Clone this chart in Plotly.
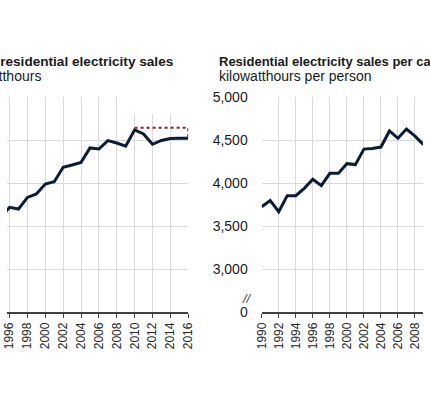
import plotly.graph_objects as go

# total residential sales, billion kWh (left panel, cropped)
salesYears = list(range(1995, 2017))
salesValues = [1040, 1087, 1079, 1133, 1149, 1195, 1206, 1273, 1284, 1296, 1363,
               1358, 1397, 1386, 1371, 1447, 1428, 1380, 1398, 1407, 1408, 1408]

# dotted reference back to the 2010 peak
peakYears = [2010, 2016, 2016]
peakValues = [1457, 1457, 1408]

# per person sales, kWh (right panel, cropped)
capitaYears = list(range(1990, 2010))
capitaValues = [3725, 3795, 3667, 3853, 3853, 3938, 4043, 3969, 4112, 4112,
                4225, 4214, 4394, 4400, 4418, 4605, 4520, 4628, 4545, 4447]

capitaTicks = [2500, 3000, 3500, 4000, 4500, 5000]
capitaLabels = ["0", "3,000", "3,500", "4,000", "4,500", "5,000"]
salesTicks = [600, 800, 1000, 1200, 1400, 1600]

lineColor = "#0b1c36"
gridColor = "#d9d9d9"
axisColor = "#404040"
textColor = "#1a1a1a"
font = "Arial, Liberation Sans, sans-serif"

fig = go.Figure()
fig.add_trace(go.Scatter(x=salesYears, y=salesValues, mode="lines",
                         line=dict(color=lineColor, width=3), xaxis="x", yaxis="y"))
fig.add_trace(go.Scatter(x=peakYears, y=peakValues, mode="lines",
                         line=dict(color="#9b1c1c", width=2, dash="dot"), xaxis="x", yaxis="y"))
fig.add_trace(go.Scatter(x=capitaYears, y=capitaValues, mode="lines",
                         line=dict(color=lineColor, width=3), xaxis="x2", yaxis="y2"))

xStyle = dict(tick0=1990, dtick=2, tickangle=-90, showgrid=True, gridcolor=gridColor,
              gridwidth=1, showline=True, linecolor=axisColor, linewidth=1.5,
              ticks="outside", ticklen=4, tickcolor=axisColor, tickwidth=1.2,
              tickfont=dict(family=font, size=12, color="#262626"), zeroline=False)
yStyle = dict(showgrid=True, gridcolor=gridColor, gridwidth=1, zeroline=False,
              showline=False, ticks="")

fig.update_layout(
	width=430, height=400,
	margin=dict(l=0, r=0, t=97, b=88),
	showlegend=False,
	paper_bgcolor="white", plot_bgcolor="white",
	font=dict(family=font, color=textColor),
	xaxis=dict(domain=[0, 0.4356], range=[1995.71, 2016], anchor="y", **xStyle),
	yaxis=dict(domain=[0, 1], range=[600, 1600], tickvals=salesTicks,
	           showticklabels=False, anchor="x", **yStyle),
	xaxis2=dict(domain=[0.6123, 1], range=[1990, 2008.94], anchor="y2", **xStyle),
	yaxis2=dict(domain=[0, 1], range=[2500, 5000], tickvals=capitaTicks, ticktext=capitaLabels,
	            tickfont=dict(family=font, size=14, color=textColor), ticklabelstandoff=13,
	            anchor="x2", **yStyle),
)

# white box that hides the grid above the peak (as in the source)
fig.add_shape(type="rect", xref="x", yref="y", x0=2009.36, x1=2016.8, y0=1521, y1=1620,
              fillcolor="white", line=dict(width=0), layer="between")

notes = [
	("<b>U.S. residential electricity sales</b>", 173.5 / 430, 1.166, "right", 13.6),
	("billion kilowatthours", 37.5 / 430, 1.096, "right", 14),
	("<b>Residential electricity sales per capita</b>", 217 / 430, 1.166, "left", 13),
	("kilowatthours per person", 217 / 430, 1.096, "left", 14),
]
for text, x, y, anchor, size in notes:
	fig.add_annotation(text=text, x=x, y=y, xref="paper", yref="paper", xanchor=anchor,
	                   yanchor="middle", showarrow=False,
	                   font=dict(family=font, size=size, color=textColor))

fig.add_annotation(text="<i>//</i>", x=248 / 430, y=0.065, xref="paper", yref="paper",
                   xanchor="center", yanchor="middle", showarrow=False,
                   font=dict(family=font, size=13, color=axisColor))

# page body has a default 8px margin; drop it so the figure fills the window
fig.write_html("out.html", config={"displayModeBar": False},
               post_script="document.body.style.margin='0';")
